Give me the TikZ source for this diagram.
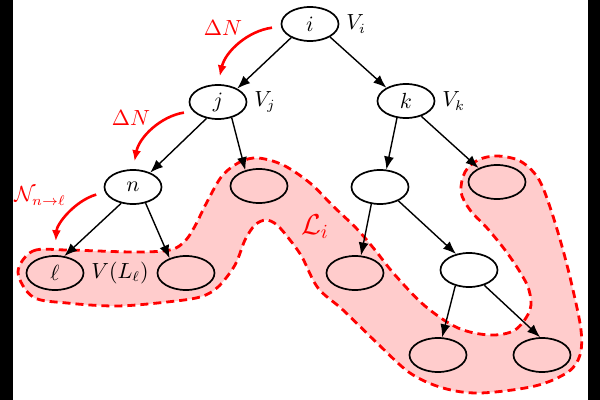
\documentclass[tikz,border=0pt]{standalone}
\usetikzlibrary{arrows.meta,positioning,shapes.geometric}

\begin{document}
\begin{tikzpicture}[
    x=0.5pt, y=-0.5pt,
    node distance=0pt,
    every node/.style={font=\fontsize{10.5}{12}\selectfont},
    vert/.style={draw, ellipse, line width=0.85pt, minimum width=28.5pt, minimum height=17pt, inner sep=0pt},
    link/.style={-{Latex[length=6.5pt,width=5pt]}, line width=0.7pt},
    hop/.style={-{Latex[length=5.5pt,width=4.5pt]}, line width=1.3pt, red, shorten <=4.5pt, shorten >=4pt},
    leafset/.style={draw=red, fill=red!20, line width=1.4pt, dash pattern=on 4pt off 2.5pt},
    tag/.style={red}
]
\useasboundingbox (0,0) rectangle (600,400);
\fill[black] (0,0) rectangle (13,400);
\fill[black] (588,0) rectangle (600,400);

% the set of leaves below i
\draw[leafset] plot[smooth cycle, tension=0.55] coordinates {
    (18,272) (33,251) (67,250) (133,252) (170,250) (185,241) (195,226) (207,202)
    (222,176) (240,162) (258,158) (283,165) (310,183) (333,206) (357,229) (375,250)
    (395,275) (425,306) (458,328) (490,335) (515,330) (530,310) (529,290) (520,272)
    (505,250) (487,228) (470,210) (461,192) (465,172) (478,160) (497,156) (520,161)
    (538,178) (550,207) (563,250) (573,290) (581,330) (580,355) (568,372) (535,386)
    (480,393) (443,388) (410,373) (377,343) (343,310) (318,288) (302,257) (290,240)
    (277,225) (266,220) (255,225) (245,240) (235,265) (218,287) (200,297) (167,302)
    (117,306) (67,303) (33,297)};

\node[vert] (i) at (310,24) {$i$};
\node[vert] (j) at (218,102) {$j$};
\node[vert] (k) at (406,101) {$k$};
\node[vert] (n) at (133,187) {$n$};
\node[vert] (lj) at (259,186) {};
\node[vert] (kl) at (380,187) {};
\node[vert] (kr) at (497,182) {};
\node[vert] (ell) at (55,273) {$\ell$};
\node[vert] (ln) at (186,273) {};
\node[vert] (kll) at (355,273) {};
\node[vert] (m) at (469,270) {};
\node[vert] (bl) at (438,355) {};
\node[vert] (br) at (542,355) {};

\node[right=of i] (vi) {$V_i$};
\node[right=of j] (vj) {$V_j$};
\node[right=of k] (vk) {$V_k$};
\node[right=of ell] (vl) {$V(L_\ell)$};

\draw[link] (i.-144) -- (j.35);
\draw[link] (i.-33) -- (k.146);
\draw[link] (j.-125) -- (n.40);
\draw[link] (j.-49) -- (lj.131);
\draw[link] (n.-126) -- (ell.61);
\draw[link] (n.-52) -- (ln.138);
\draw[link] (k.-118) -- (kl.70);
\draw[link] (k.-45) -- (kr.143);
\draw[link] (kl.-117) -- (kll.71);
\draw[link] (kl.-37) -- (m.129);
\draw[link] (m.-131) -- (bl.77);
\draw[link] (m.-45) -- (br.96);

% moves down the tree
\draw[hop] (i.185) to[bend right=35] (j.north);
\draw[hop] (j.200) to[bend right=35] (n.north);
\draw[hop, shorten >=7pt] (n.190) to[bend right=35] (ell.north);
\node[tag] (dn1) at (223,28) {$\Delta N$};
\node[tag] (dn2) at (131,118) {$\Delta N$};
\node[tag] (nnl) at (40,196) {$\mathcal{N}_{n\to\ell}$};
\node[tag, font=\Large] (li) at (315,227) {$\mathcal{L}_i$};
\end{tikzpicture}
\end{document}
